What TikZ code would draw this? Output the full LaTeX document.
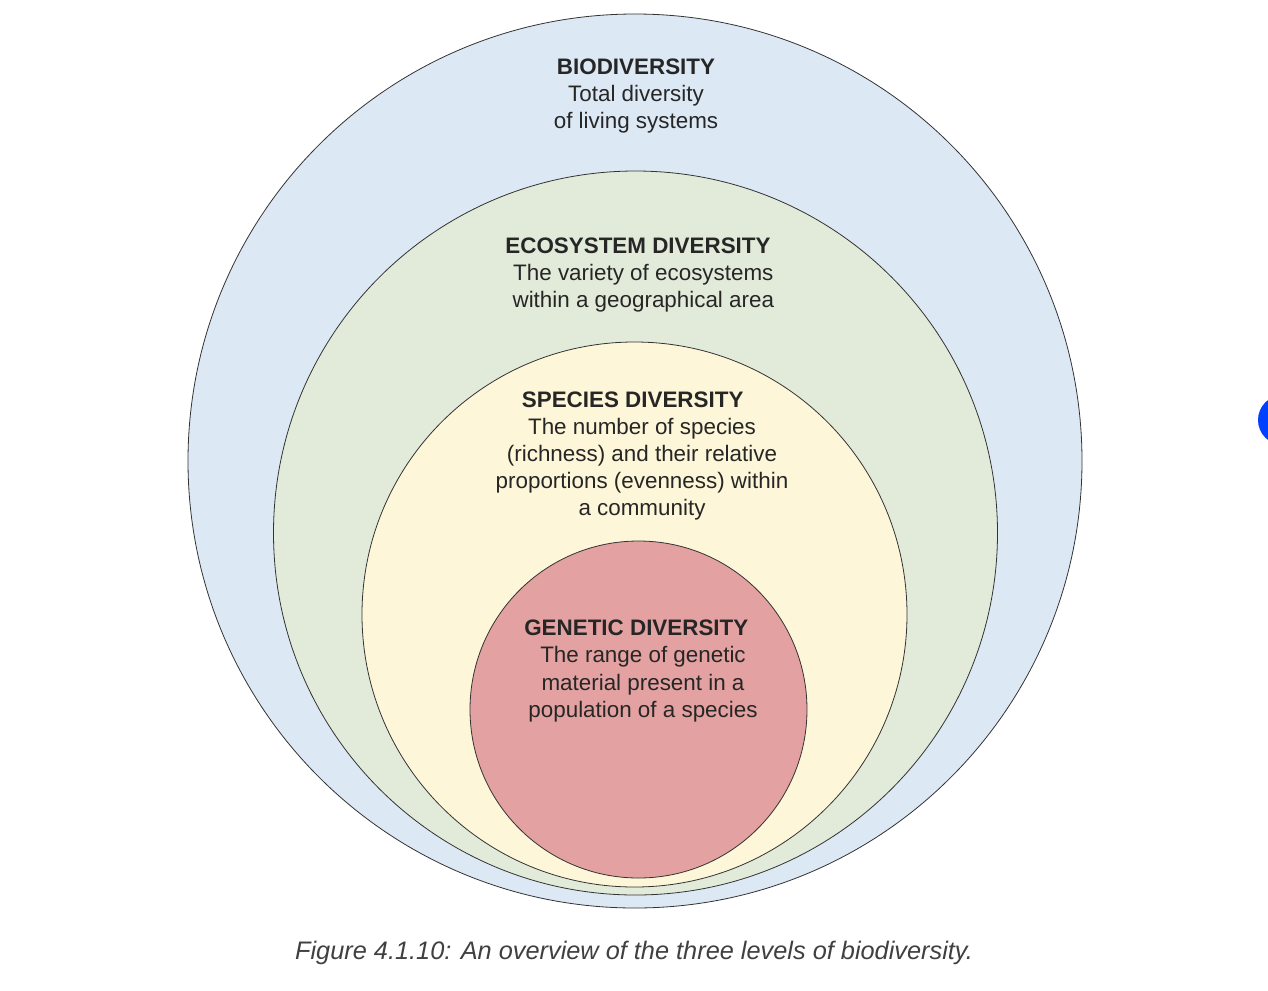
\documentclass[tikz,border=0pt]{standalone}
\usepackage{fontspec}
\setmainfont{Liberation Sans}
\begin{document}
\begin{tikzpicture}[x=0.75pt,y=-0.75pt,
  ring/.style={draw=black!80,line width=0.6pt,circle,inner sep=0},
  lbl/.style={align=center,font=\fontsize{16.8}{20.4}\selectfont,text=black!85,inner sep=0}]
\useasboundingbox (0,0) rectangle (1268,990);
\fill[white] (0,0) rectangle (1268,990);
\fill[blue!75!cyan] (1283,420) circle (25);
\node[ring,fill={rgb,255:red,221;green,232;blue,245},minimum size=670.5pt] (bio) at (635,461) {};
\node[ring,fill={rgb,255:red,226;green,235;blue,218},minimum size=543pt] (eco) at (635.5,533) {};
\node[ring,fill={rgb,255:red,253;green,246;blue,216},minimum size=408.75pt] (spe) at (634.5,614.5) {};
\node[ring,fill={rgb,255:red,227;green,161;blue,161},minimum size=252.75pt] (gen) at (638.5,709.5) {};
\node[lbl] (t1) at (636,96) {\textbf{BIODIVERSITY}\\Total diversity\\of living systems};
\node[lbl] (t2) at (638,275) {\textbf{ECOSYSTEM DIVERSITY}\\\hspace*{8pt}The variety of ecosystems\\\hspace*{8pt}within a geographical area};
\node[lbl] (t3) at (642,456) {\hspace*{-14pt}\textbf{SPECIES DIVERSITY}\\The number of species\\(richness) and their relative\\proportions (evenness) within\\a community};
\node[lbl] (t4) at (643,671) {\hspace*{-10pt}\textbf{GENETIC DIVERSITY}\\The range of genetic\\material present in a\\population of a species};
\node[lbl,text=black!75,font=\fontsize{19}{22}\selectfont\itshape] (cap) at (634,953) {Figure 4.1.10: An overview of the three levels of biodiversity.};
\end{tikzpicture}
\end{document}
